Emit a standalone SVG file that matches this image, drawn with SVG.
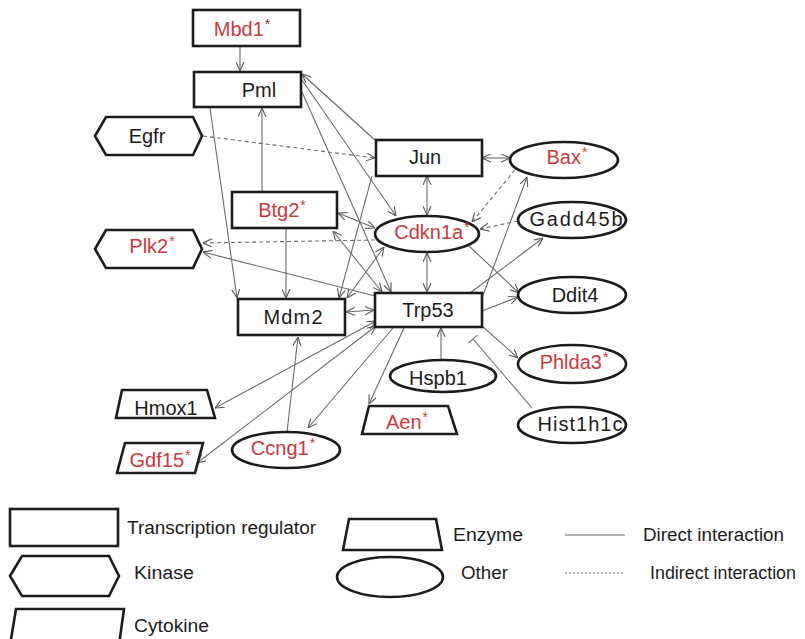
<svg xmlns="http://www.w3.org/2000/svg" width="805" height="639" viewBox="0 0 805 639">
<style>
.n{fill:#fff;stroke:#1c1c1c;stroke-width:2.6}
.t{font-family:"Liberation Sans",Arial,sans-serif;font-size:20px;text-anchor:middle;fill:#1c1c1c}
.r{fill:#c9393e}
.s{font-size:14px}
.e{fill:none;stroke:#6b6b6b;stroke-width:1.1}
.d{stroke-dasharray:4 3}
.lg{font-family:"Liberation Sans",Arial,sans-serif;font-size:18px;fill:#1c1c1c}
</style>
<defs>
<marker id="ah" viewBox="0 0 10 10" refX="10" refY="5" markerWidth="9" markerHeight="9" markerUnits="userSpaceOnUse" orient="auto-start-reverse">
<path d="M0,0.5 L10,5 L0,9.5" fill="none" stroke="#5e5e5e" stroke-width="1.3"/>
</marker>
</defs>
<rect width="805" height="639" fill="#fff"/>
<g id="connectors">
<line class="e" x1="240" y1="46" x2="240" y2="71" marker-end="url(#ah)"/>
<line class="e d" x1="203" y1="136" x2="375" y2="158" marker-end="url(#ah)"/>
<line class="e" x1="262" y1="192" x2="262" y2="108" marker-end="url(#ah)"/>
<line class="e" x1="210" y1="108" x2="237" y2="298" marker-end="url(#ah)"/>
<line class="e" x1="286" y1="229" x2="286" y2="298" marker-end="url(#ah)"/>
<line class="e" x1="376" y1="141" x2="302" y2="74" marker-end="url(#ah)"/>
<line class="e" x1="302" y1="80" x2="396" y2="216" marker-end="url(#ah)"/>
<line class="e" x1="302" y1="92" x2="391" y2="292" marker-end="url(#ah)"/>
<line class="e" x1="372" y1="176" x2="339" y2="298" marker-end="url(#ah)"/>
<line class="e" x1="347" y1="298" x2="384" y2="247" marker-start="url(#ah)" marker-end="url(#ah)"/>
<line class="e" x1="338" y1="213" x2="375" y2="228" marker-start="url(#ah)" marker-end="url(#ah)"/>
<line class="e" x1="333" y1="231" x2="382" y2="292" marker-start="url(#ah)" marker-end="url(#ah)"/>
<line class="e" x1="427" y1="176" x2="427" y2="215" marker-start="url(#ah)" marker-end="url(#ah)"/>
<line class="e" x1="427" y1="253" x2="427" y2="292" marker-start="url(#ah)" marker-end="url(#ah)"/>
<line class="e" x1="482" y1="158" x2="510" y2="158" marker-start="url(#ah)" marker-end="url(#ah)"/>
<line class="e d" x1="515" y1="170" x2="472" y2="222" marker-end="url(#ah)"/>
<line class="e d" x1="518" y1="221" x2="480" y2="229" marker-end="url(#ah)"/>
<line class="e d" x1="375" y1="240" x2="203" y2="243" marker-end="url(#ah)"/>
<line class="e" x1="375" y1="296" x2="203" y2="252" marker-end="url(#ah)"/>
<line class="e" x1="346" y1="312" x2="374" y2="310" marker-start="url(#ah)" marker-end="url(#ah)"/>
<line class="e" x1="470" y1="293" x2="543" y2="238" marker-end="url(#ah)"/>
<line class="e" x1="482" y1="298" x2="527" y2="177" marker-end="url(#ah)"/>
<line class="e" x1="482" y1="311" x2="518" y2="297" marker-end="url(#ah)"/>
<line class="e" x1="469" y1="246" x2="519" y2="293" marker-end="url(#ah)"/>
<line class="e" x1="482" y1="326" x2="518" y2="358" marker-end="url(#ah)"/>
<line class="e" x1="532" y1="408" x2="473" y2="339"/>
<line class="e" x1="468.4" y1="342.9" x2="477.6" y2="335.1"/>
<line class="e" x1="441" y1="360" x2="441" y2="328" marker-end="url(#ah)"/>
<line class="e" x1="404" y1="328" x2="369" y2="404" marker-end="url(#ah)"/>
<line class="e" x1="393" y1="328" x2="308" y2="428" marker-end="url(#ah)"/>
<line class="e" x1="376" y1="321" x2="215" y2="408" marker-start="url(#ah)" marker-end="url(#ah)"/>
<line class="e" x1="376" y1="326" x2="197" y2="463" marker-start="url(#ah)" marker-end="url(#ah)"/>
<line class="e" x1="287" y1="432" x2="298" y2="337" marker-end="url(#ah)"/>
</g>
<g id="Mbd1"><rect class="n" x="193" y="10" width="107" height="36"/><text class="t r" x="242" y="36">Mbd1<tspan class="s" dx="1" dy="-7" fill="#7a2a2a">*</tspan></text></g>
<g id="Pml"><rect class="n" x="194" y="72" width="107" height="35"/><text class="t" x="259" y="97">Pml</text></g>
<g id="Egfr"><polygon class="n" points="95,136 106,117 193,117 202,136 193,155 106,155"/><text class="t" x="147" y="143">Egfr</text></g>
<g id="Jun"><rect class="n" x="376" y="140" width="106" height="36"/><text class="t" x="425" y="164">Jun</text></g>
<g id="Bax"><ellipse class="n" cx="564" cy="160" rx="54" ry="18"/><text class="t r" x="567" y="164">Bax<tspan class="s" dx="1" dy="-7">*</tspan></text></g>
<g id="Btg2"><rect class="n" x="232" y="192" width="105" height="36"/><text class="t r" x="282" y="217">Btg2<tspan class="s" dx="1" dy="-7">*</tspan></text></g>
<g id="Cdkn1a"><ellipse class="n" cx="427" cy="234" rx="52" ry="18"/><text class="t r" x="432" y="239">Cdkn1a<tspan class="s" dx="1" dy="-7">*</tspan></text></g>
<g id="Gadd45b"><ellipse class="n" cx="572" cy="220" rx="54" ry="18"/><text class="t" x="576" y="226" textLength="93">Gadd45b</text></g>
<g id="Plk2"><polygon class="n" points="95,249 106,230 193,230 202,249 193,268 106,268"/><text class="t r" x="152" y="253">Plk2<tspan class="s" dx="1" dy="-7">*</tspan></text></g>
<g id="Mdm2"><rect class="n" x="238" y="299" width="107" height="36"/><text class="t" x="293" y="324" textLength="59">Mdm2</text></g>
<g id="Trp53"><rect class="n" x="375" y="293" width="107" height="34"/><text class="t" x="428" y="317">Trp53</text></g>
<g id="Ddit4"><ellipse class="n" cx="572" cy="295" rx="54" ry="18"/><text class="t" x="575" y="302">Ddit4</text></g>
<g id="Phlda3"><ellipse class="n" cx="572" cy="364" rx="54" ry="19"/><text class="t r" x="574" y="369">Phlda3<tspan class="s" dx="1" dy="-7">*</tspan></text></g>
<g id="Hspb1"><ellipse class="n" cx="443" cy="376" rx="53" ry="16"/><text class="t" x="438" y="385">Hspb1</text></g>
<g id="Hist1h1c"><ellipse class="n" cx="572" cy="425" rx="54" ry="18"/><text class="t" x="580" y="431" textLength="85">Hist1h1c</text></g>
<g id="Aen"><polygon class="n" points="369,406 448,406 457,434 362,434"/><text class="t r" x="407" y="429">Aen<tspan class="s" dx="1" dy="-7">*</tspan></text></g>
<g id="Hmox1"><polygon class="n" points="122,390 207,390 215,418 116,418"/><text class="t" x="166" y="415">Hmox1</text></g>
<g id="Gdf15"><polygon class="n" points="125,443 203,443 195,473 117,473"/><text class="t r" x="160" y="467">Gdf15<tspan class="s" dx="1" dy="-7">*</tspan></text></g>
<g id="Ccng1"><ellipse class="n" cx="286" cy="450" rx="54" ry="18"/><text class="t r" x="283" y="455">Ccng1<tspan class="s" dx="1" dy="-7">*</tspan></text></g>
<g id="legend">
<rect class="n" x="10" y="509" width="108" height="37"/>
<text class="lg" x="127" y="534" textLength="189" lengthAdjust="spacingAndGlyphs">Transcription regulator</text>
<polygon class="n" points="10,576 22,556 109,556 119,576 109,596 22,596"/>
<text class="lg" x="134" y="579" textLength="60" lengthAdjust="spacingAndGlyphs">Kinase</text>
<polygon class="n" points="16,609 124,609 119,645 10,645"/>
<text class="lg" x="134" y="632" textLength="75" lengthAdjust="spacingAndGlyphs">Cytokine</text>
<polygon class="n" points="349,519 436,519 442,550 343,550"/>
<text class="lg" x="453" y="541" textLength="70" lengthAdjust="spacingAndGlyphs">Enzyme</text>
<ellipse class="n" cx="390" cy="577" rx="53" ry="20"/>
<text class="lg" x="461" y="579" textLength="47" lengthAdjust="spacingAndGlyphs">Other</text>
<line class="e" x1="565" y1="535" x2="625" y2="535"/>
<text class="lg" x="643" y="541" textLength="141" lengthAdjust="spacingAndGlyphs">Direct interaction</text>
<line class="e d" x1="565" y1="573" x2="625" y2="573" style="stroke-dasharray:2 2"/>
<text class="lg" x="650" y="579" textLength="146" lengthAdjust="spacingAndGlyphs">Indirect interaction</text>
</g>
</svg>
